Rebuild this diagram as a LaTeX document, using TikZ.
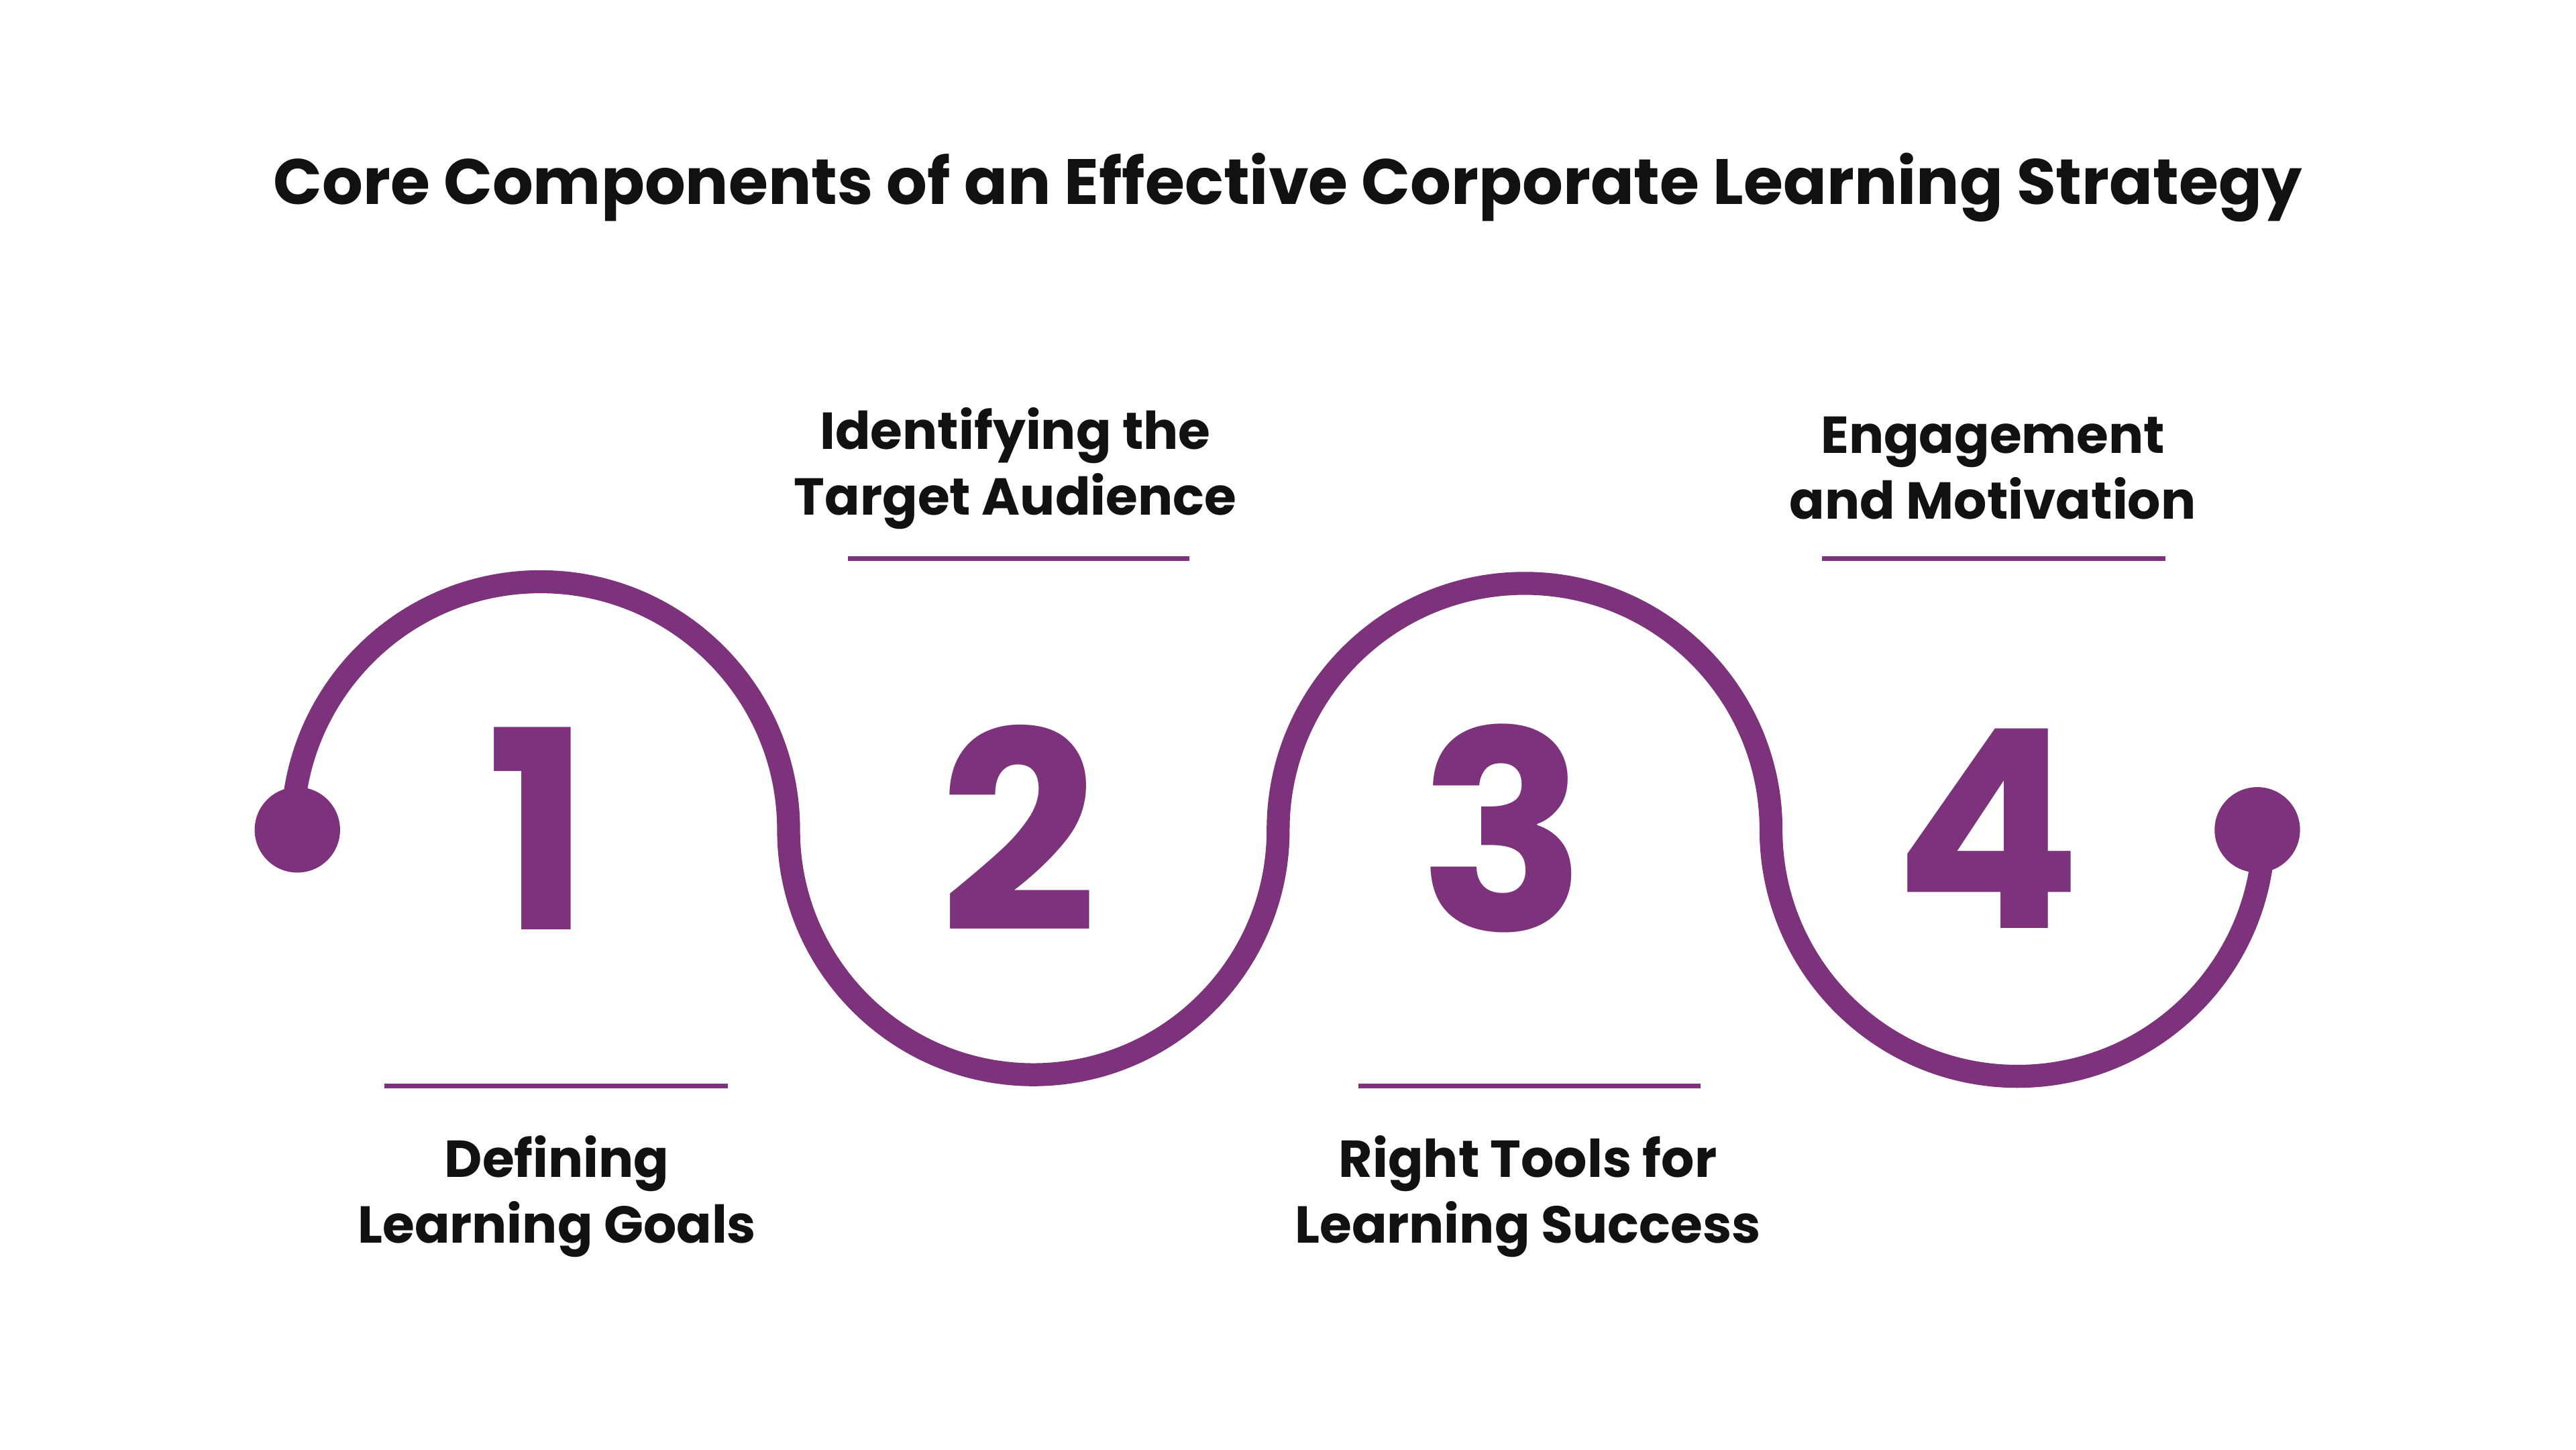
\documentclass[tikz,border=0pt]{standalone}
\usepackage{fontspec}
\setmainfont{Poppins}
\usepackage{xcolor}
\usetikzlibrary{positioning}
\definecolor{plum}{HTML}{7D327C}
\definecolor{ink}{HTML}{111111}

\begin{document}
\begin{tikzpicture}
\tikzstyle{wave}=[draw=plum,line width=1.4mm];
\tikzstyle{rule}=[draw=plum,line width=0.3mm];
\tikzstyle{num}=[text=plum,font=\fontsize{48}{48}\selectfont\bfseries];
\tikzstyle{label}=[text=ink,align=center,font=\fontsize{9.0}{11.4}\selectfont\bfseries];
\fill[white] (0,0) rectangle (15.68,8.82);
\node[text=ink,font=\fontsize{11.1}{14}\selectfont\bfseries](title) at (7.84,7.68){Core Components of an Effective Corporate Learning Strategy};
% the wave
\coordinate (w0) at (1.78,3.77);
\draw[wave] (w0) arc (180:0:1.51) arc (180:360:1.49) arc (180:0:1.50) arc (180:360:1.50);
\fill[plum] (1.81,3.77) circle (0.26);
\fill[plum] (13.74,3.77) circle (0.26);
% numbers
\node[num](n1) at (3.28,3.78){1};
\node[num](n2) at (6.20,3.78){2};
\node[num](n3) at (9.15,3.78){3};
\node[num](n4) at (12.10,3.78){4};
% upper labels
\node[label](t2) at (6.18,5.97){Identifying the\\Target Audience};
\node[label](t4) at (12.13,5.97){Engagement\\and Motivation};
\draw[rule] (5.16,5.42) -- (7.24,5.42);
\draw[rule] (11.09,5.42) -- (13.18,5.42);
% lower labels
\node[label](t1) at (3.39,1.54){Defining\\Learning Goals};
\node[label](t3) at (9.30,1.54){Right Tools for\\Learning Success};
\draw[rule] (2.34,2.21) -- (4.43,2.21);
\draw[rule] (8.27,2.21) -- (10.35,2.21);
\end{tikzpicture}
\end{document}
